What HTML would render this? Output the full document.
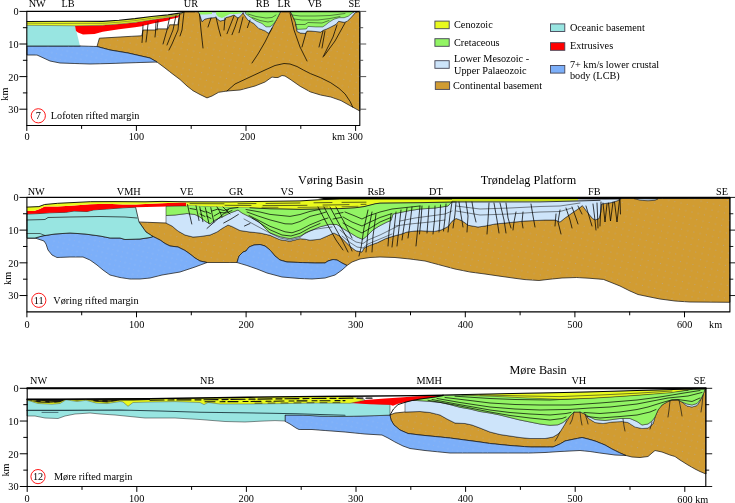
<!DOCTYPE html>
<html><head><meta charset="utf-8"><title>Rifted margin crustal transects</title>
<style>
html,body{margin:0;padding:0;background:#fff;}
body{width:735px;height:503px;overflow:hidden;}
svg{display:block;font-family:"Liberation Serif","DejaVu Serif",serif;fill:#000;}
</style></head><body>
<svg width="735" height="503" viewBox="0 0 735 503">
<defs>
<pattern id="dotb" width="9" height="9" patternUnits="userSpaceOnUse" patternTransform="rotate(-32)"><circle cx="2" cy="2" r="0.5" fill="#b9a68c"/><circle cx="6.5" cy="6.5" r="0.5" fill="#b9a68c"/></pattern>
<pattern id="dotl" width="7" height="7" patternUnits="userSpaceOnUse" patternTransform="rotate(-32)"><circle cx="2" cy="2" r="0.45" fill="#a9c6ee"/><circle cx="5.5" cy="5.5" r="0.45" fill="#98b4e6"/></pattern>
</defs>
<rect x="0" y="0" width="735" height="503" fill="#fff"/>
<polygon points="97,46.5 99.4,38.2 110,37.6 130,36.4 141.8,35.8 143,30 155,30 157,28.9 168,28.9 169.6,24.8 177.8,24.8 179.5,15 183.5,12 198.5,12 199.5,14 202,21.6 205,19 210,18 215.7,17.5 220,21 224.7,20 226,17.5 230,16.5 234,15 238,18 241,15.5 243.2,12.6 244,14.5 248,20.2 253.8,23.5 258.7,28.4 265.2,30.9 268.5,33.3 271,30 273.4,25.1 276.6,19.4 279.5,13.7 280.3,12 290,12 291,12.6 295.2,21.3 297.2,31.5 300.3,33 305.4,33.5 307,31 310.5,31 320.7,32 323.8,30 326.8,28.9 330,27.4 336,24.3 338.6,21.3 344.2,22.3 347.2,21.3 351.3,17.2 355.4,12.6 357,12 359.8,12 359.8,111 349.2,105.2 341,100.6 330.8,97 320.6,95 310.4,91.9 300.2,86.3 290,79.2 285,76 282,75.5 278,77.5 275,77.5 272,77 265,82 255,86 240,90 227,91 218.6,92.3 212,96 207,97.9 200,94.5 193,90.7 187,86 180,79.5 172,73.5 165,68 157,62 150,58 128,53 110,50" fill="#d19c32" stroke="#181818" stroke-width="0.75" stroke-linejoin="round" />
<polygon points="97,46.5 99.4,38.2 110,37.6 130,36.4 141.8,35.8 143,30 155,30 157,28.9 168,28.9 169.6,24.8 177.8,24.8 179.5,15 183.5,12 198.5,12 199.5,14 202,21.6 205,19 210,18 215.7,17.5 220,21 224.7,20 226,17.5 230,16.5 234,15 238,18 241,15.5 243.2,12.6 244,14.5 248,20.2 253.8,23.5 258.7,28.4 265.2,30.9 268.5,33.3 271,30 273.4,25.1 276.6,19.4 279.5,13.7 280.3,12 290,12 291,12.6 295.2,21.3 297.2,31.5 300.3,33 305.4,33.5 307,31 310.5,31 320.7,32 323.8,30 326.8,28.9 330,27.4 336,24.3 338.6,21.3 344.2,22.3 347.2,21.3 351.3,17.2 355.4,12.6 357,12 359.8,12 359.8,111 349.2,105.2 341,100.6 330.8,97 320.6,95 310.4,91.9 300.2,86.3 290,79.2 285,76 282,75.5 278,77.5 275,77.5 272,77 265,82 255,86 240,90 227,91 218.6,92.3 212,96 207,97.9 200,94.5 193,90.7 187,86 180,79.5 172,73.5 165,68 157,62 150,58 128,53 110,50" fill="url(#dotb)" stroke="none"/>
<polygon points="27,46 80,46 97,46.5 110,50 128,53 150,58 157,62 140,62.5 110,63.5 90,64 60,63 50,61 37,55 27,55" fill="#7caff9" stroke="#181818" stroke-width="0.75" stroke-linejoin="round" />
<polygon points="27,46 80,46 97,46.5 110,50 128,53 150,58 157,62 140,62.5 110,63.5 90,64 60,63 50,61 37,55 27,55" fill="url(#dotl)" stroke="none"/>
<polygon points="27,25 75,25.6 80,46 27,46" fill="#98e5e1" stroke="none" stroke-width="0.75" stroke-linejoin="round" />
<polyline points="27,46 80,46" fill="none" stroke="#111" stroke-width="0.7" stroke-linejoin="round" stroke-linecap="round" />
<polygon points="75,25.8 102.7,25.3 119,24 135,22.4 151.6,19.8 168,17.5 178,15.5 182,13.5 180,15.3 177.8,17.5 170,19.3 168,20.5 158,22.6 155,23.1 143,25.7 141.8,26.3 135,27.3 119,29.2 102.7,31.7 94.5,34.1 83,34.4 78,32.5 76,31" fill="#ff0000" stroke="none" stroke-width="0.75" stroke-linejoin="round" />
<polygon points="198.5,12 199.5,14 202,21.6 205,19 210,18 215.7,17.5 220,21 224.7,20 226,17.5 230,16.5 234,15 238,18 241,15.5 243.2,12.6 244,14.5 248,20.2 253.8,23.5 258.7,28.4 265.2,30.9 268.5,33.3 271,30 273.4,25.1 276.6,19.4 279.5,13.7 280.3,12" fill="#cde4fa" stroke="#181818" stroke-width="0.5" stroke-linejoin="round" />
<polygon points="290,12 291,12.6 295.2,21.3 297.2,31.5 300.3,33 305.4,33.5 307,31 310.5,31 320.7,32 323.8,30 326.8,28.9 330,27.4 336,24.3 338.6,21.3 344.2,22.3 347.2,21.3 351.3,17.2 355.4,12.6 357,12" fill="#cde4fa" stroke="#181818" stroke-width="0.5" stroke-linejoin="round" />
<polygon points="245.6,12 245.6,13.7 251.3,17.8 256.2,21 262,23.5 266,26.8 270,26.8 273.4,24.3 276.6,19.4 279.5,13.7 280.3,12" fill="#92f464" stroke="#181818" stroke-width="0.5" stroke-linejoin="round" />
<polygon points="199,12 212,12 212,14 206,14.5 200,14.5" fill="#92f464" stroke="none" stroke-width="0.75" stroke-linejoin="round" />
<polygon points="216,12 230,12 230,14 226,16 222,18 218,16.5 216,14" fill="#92f464" stroke="none" stroke-width="0.75" stroke-linejoin="round" />
<polygon points="230,12 242,12 241,13.5 236,14 230,14" fill="#92f464" stroke="none" stroke-width="0.75" stroke-linejoin="round" />
<polygon points="290,12 291,12.6 295.2,21.3 297.2,29.4 306.4,28.9 308,26.4 315.6,26.9 322.8,26.9 325.8,24.8 328.9,22.3 334,19.2 339,17.7 344.2,17.7 348.3,16.2 352.3,13 354,12" fill="#92f464" stroke="#181818" stroke-width="0.5" stroke-linejoin="round" />
<polyline points="248,14 256,16.5 266,18 272,17.5 276,15" fill="none" stroke="#111" stroke-width="0.5" stroke-linejoin="round" stroke-linecap="round" />
<polyline points="252,17.5 260,20.5 268,22 273,21" fill="none" stroke="#111" stroke-width="0.5" stroke-linejoin="round" stroke-linecap="round" />
<polyline points="292,15 300,16 315,16 330,15.5 345,13.5" fill="none" stroke="#111" stroke-width="0.5" stroke-linejoin="round" stroke-linecap="round" />
<polyline points="294,19 302,20 318,20 330,18.5 340,16.5" fill="none" stroke="#111" stroke-width="0.5" stroke-linejoin="round" stroke-linecap="round" />
<polyline points="296,24.5 305,24.5 308,22.5 322,23 329,20.5" fill="none" stroke="#111" stroke-width="0.5" stroke-linejoin="round" stroke-linecap="round" />
<polygon points="27,21.5 75,21.2 102.7,21.4 119,20.2 135,18.6 151.6,16.5 168,14.9 181,12.9 184,11.8 182,13.5 178,15.5 168,17.5 151.6,19.8 135,22.4 119,24 102.7,25.3 75,25.8 27,25.3" fill="#e9fa1e" stroke="none" stroke-width="0.75" stroke-linejoin="round" />
<polyline points="27,21.5 75,21.2 102.7,21.4 119,20.2 135,18.6 151.6,16.5 168,14.9 181,12.9 184,11.8" fill="none" stroke="#111" stroke-width="1.1" stroke-linejoin="round" stroke-linecap="round" />
<polyline points="27,23.2 60,23.5 75,23.4 102.7,23.4 119,22.2 135,20.6 151.6,18.3 168,16.3 178,14.4" fill="none" stroke="#444" stroke-width="0.5" stroke-linejoin="round" stroke-linecap="round" />
<polyline points="182,13.5 178,15.5 168,17.5 151.6,19.8 135,22.4 119,24 102.7,25.3 75,25.8 27,25.3" fill="none" stroke="#444" stroke-width="0.5" stroke-linejoin="round" stroke-linecap="round" />
<polyline points="199.5,14 201,30 203,48" fill="none" stroke="#000" stroke-width="0.75" stroke-linejoin="round" stroke-linecap="round" />
<polyline points="211,18 208,27" fill="none" stroke="#000" stroke-width="0.75" stroke-linejoin="round" stroke-linecap="round" />
<polyline points="216,17 218.5,28 220.7,36" fill="none" stroke="#000" stroke-width="0.75" stroke-linejoin="round" stroke-linecap="round" />
<polyline points="225,18 224,30" fill="none" stroke="#000" stroke-width="0.75" stroke-linejoin="round" stroke-linecap="round" />
<polyline points="234,16 230,26 227,33.7" fill="none" stroke="#000" stroke-width="0.75" stroke-linejoin="round" stroke-linecap="round" />
<polyline points="238,18 235,27 232,34.7" fill="none" stroke="#000" stroke-width="0.75" stroke-linejoin="round" stroke-linecap="round" />
<polyline points="243,17 241,25 239,32.7" fill="none" stroke="#000" stroke-width="0.75" stroke-linejoin="round" stroke-linecap="round" />
<polyline points="250,20 247.4,27.6" fill="none" stroke="#000" stroke-width="0.75" stroke-linejoin="round" stroke-linecap="round" />
<polyline points="272,28 265,42 258,54 252,63" fill="none" stroke="#000" stroke-width="0.75" stroke-linejoin="round" stroke-linecap="round" />
<polyline points="290,13 294,30 300,47 307,61" fill="none" stroke="#000" stroke-width="0.75" stroke-linejoin="round" stroke-linecap="round" />
<polyline points="306,33 302,47" fill="none" stroke="#000" stroke-width="0.75" stroke-linejoin="round" stroke-linecap="round" />
<polyline points="323,31 319,47" fill="none" stroke="#000" stroke-width="0.75" stroke-linejoin="round" stroke-linecap="round" />
<polyline points="325,31 322,48" fill="none" stroke="#000" stroke-width="0.75" stroke-linejoin="round" stroke-linecap="round" />
<polyline points="337,25 333,37 323,57" fill="none" stroke="#000" stroke-width="0.75" stroke-linejoin="round" stroke-linecap="round" />
<polyline points="345,23 335,41 324,56" fill="none" stroke="#000" stroke-width="0.75" stroke-linejoin="round" stroke-linecap="round" />
<polyline points="143,25 142.5,36 142,42.5" fill="none" stroke="#000" stroke-width="0.75" stroke-linejoin="round" stroke-linecap="round" />
<polyline points="148,24 147,34 146,42" fill="none" stroke="#000" stroke-width="0.75" stroke-linejoin="round" stroke-linecap="round" />
<polyline points="156,22 155.5,32 155,37" fill="none" stroke="#000" stroke-width="0.75" stroke-linejoin="round" stroke-linecap="round" />
<polyline points="158,21 157,30" fill="none" stroke="#000" stroke-width="0.75" stroke-linejoin="round" stroke-linecap="round" />
<polyline points="169.5,18 167,30 163,44" fill="none" stroke="#000" stroke-width="0.75" stroke-linejoin="round" stroke-linecap="round" />
<polyline points="176,15.5 173,30 167,45" fill="none" stroke="#000" stroke-width="0.75" stroke-linejoin="round" stroke-linecap="round" />
<polyline points="179.5,14 178,30 172,44 169,50" fill="none" stroke="#000" stroke-width="0.75" stroke-linejoin="round" stroke-linecap="round" />
<polyline points="184,12 182,30 180,36" fill="none" stroke="#000" stroke-width="0.75" stroke-linejoin="round" stroke-linecap="round" />
<polyline points="227,91 235,84 250,77 265,70 275,65.5 284,63.5 290,64 297,66.5 303.3,70 310.4,73.6 320.6,77.7 330.8,82.8 339,88.4 345.1,94 350.2,101.6 352.8,107.2" fill="none" stroke="#000" stroke-width="0.75" stroke-linejoin="round" stroke-linecap="round" />
<polyline points="26.8,125.5 26.8,11.4 359.8,11.4 359.8,125.5 26.8,125.5" fill="none" stroke="#000" stroke-width="1.1" stroke-linejoin="round" stroke-linecap="round" stroke-linecap="square"/>
<polyline points="19.8,11.4 26.8,11.4" fill="none" stroke="#000" stroke-width="1" stroke-linejoin="round" stroke-linecap="round" />
<polyline points="359.8,11.4 365.8,11.4" fill="none" stroke="#444" stroke-width="0.9" stroke-linejoin="round" stroke-linecap="round" />
<polyline points="23.3,27.7 26.8,27.7" fill="none" stroke="#000" stroke-width="1" stroke-linejoin="round" stroke-linecap="round" />
<polyline points="359.8,27.7 362.8,27.7" fill="none" stroke="#444" stroke-width="0.9" stroke-linejoin="round" stroke-linecap="round" />
<polyline points="19.8,44 26.8,44" fill="none" stroke="#000" stroke-width="1" stroke-linejoin="round" stroke-linecap="round" />
<polyline points="359.8,44 365.8,44" fill="none" stroke="#444" stroke-width="0.9" stroke-linejoin="round" stroke-linecap="round" />
<polyline points="23.3,60.3 26.8,60.3" fill="none" stroke="#000" stroke-width="1" stroke-linejoin="round" stroke-linecap="round" />
<polyline points="359.8,60.3 362.8,60.3" fill="none" stroke="#444" stroke-width="0.9" stroke-linejoin="round" stroke-linecap="round" />
<polyline points="19.8,76.6 26.8,76.6" fill="none" stroke="#000" stroke-width="1" stroke-linejoin="round" stroke-linecap="round" />
<polyline points="359.8,76.6 365.8,76.6" fill="none" stroke="#444" stroke-width="0.9" stroke-linejoin="round" stroke-linecap="round" />
<polyline points="23.3,92.9 26.8,92.9" fill="none" stroke="#000" stroke-width="1" stroke-linejoin="round" stroke-linecap="round" />
<polyline points="359.8,92.9 362.8,92.9" fill="none" stroke="#444" stroke-width="0.9" stroke-linejoin="round" stroke-linecap="round" />
<polyline points="19.8,109.2 26.8,109.2" fill="none" stroke="#000" stroke-width="1" stroke-linejoin="round" stroke-linecap="round" />
<polyline points="359.8,109.2 365.8,109.2" fill="none" stroke="#444" stroke-width="0.9" stroke-linejoin="round" stroke-linecap="round" />
<text x="18.5" y="15.3" font-size="10.25" text-anchor="end" >0</text>
<text x="18.5" y="47.9" font-size="10.25" text-anchor="end" >10</text>
<text x="18.5" y="80.5" font-size="10.25" text-anchor="end" >20</text>
<text x="18.5" y="113.1" font-size="10.25" text-anchor="end" >30</text>
<polyline points="26.8,125.5 26.8,130.5" fill="none" stroke="#000" stroke-width="1" stroke-linejoin="round" stroke-linecap="round" />
<polyline points="81.6,125.5 81.6,128.5" fill="none" stroke="#000" stroke-width="1" stroke-linejoin="round" stroke-linecap="round" />
<polyline points="136.4,125.5 136.4,130.5" fill="none" stroke="#000" stroke-width="1" stroke-linejoin="round" stroke-linecap="round" />
<polyline points="191.2,125.5 191.2,128.5" fill="none" stroke="#000" stroke-width="1" stroke-linejoin="round" stroke-linecap="round" />
<polyline points="246,125.5 246,130.5" fill="none" stroke="#000" stroke-width="1" stroke-linejoin="round" stroke-linecap="round" />
<polyline points="300.8,125.5 300.8,128.5" fill="none" stroke="#000" stroke-width="1" stroke-linejoin="round" stroke-linecap="round" />
<polyline points="355.6,125.5 355.6,130.5" fill="none" stroke="#000" stroke-width="1" stroke-linejoin="round" stroke-linecap="round" />
<text x="27" y="139.5" font-size="10.25" text-anchor="middle" >0</text>
<text x="136.4" y="139.5" font-size="10.25" text-anchor="middle" >100</text>
<text x="247.6" y="139.5" font-size="10.25" text-anchor="middle" >200</text>
<text x="363" y="139.5" font-size="10.25" text-anchor="end" >km 300</text>
<text transform="translate(7.7,94.2) rotate(-90)" font-size="10.25" text-anchor="middle">km</text>
<text x="28.7" y="7" font-size="10.25" text-anchor="start" >NW</text>
<text x="61.4" y="7" font-size="10.25" text-anchor="start" >LB</text>
<text x="183.8" y="7" font-size="10.25" text-anchor="start" >UR</text>
<text x="255.8" y="7" font-size="10.25" text-anchor="start" >RB</text>
<text x="277.4" y="7" font-size="10.25" text-anchor="start" >LR</text>
<text x="307.7" y="7" font-size="10.25" text-anchor="start" >VB</text>
<text x="348.4" y="7" font-size="10.25" text-anchor="start" >SE</text>
<circle cx="38.3" cy="115.8" r="7.1" fill="none" stroke="#f00" stroke-width="0.9"/>
<text x="38.3" y="119.2" font-size="10.25" text-anchor="middle" >7</text>
<text x="50.8" y="119.2" font-size="10.25" text-anchor="start" >Lofoten rifted margin</text>
<polygon points="139,222 166,223 172,226 178,231 185,235 193,237 200,236.5 210,235 217,232 222,228.5 228,225 232,226.5 240,230.5 250,232 260,233 270,235.3 280,239.7 290,241.2 300,238.7 305,239.2 310,240.2 320,239.2 330,234.8 334,233 339.7,236 345,241.3 350.5,246.7 356,250.8 362,252 364,248 369.5,245.4 377.6,242.6 385.7,238.6 393.8,236 400,234.5 407,232 415,231 420.8,230.7 428,231.2 434.4,231.4 441,230 448,226.6 452,221.2 456,218.4 461.6,220.5 468.4,225.3 478,227 485,226 495,224 505,223 515,222 525,221 535,220.5 545,220 555,220 560,222 565,218 572,213 578,209 582.4,205.6 587,211.7 592.6,218.5 595.4,219.8 599,218.5 600.8,212 601.5,204 607,203.2 612,202.5 618,200.5 621,198.3 729.9,198.3 729.9,302.3 690,302 675,301 660,299 650,297 638,294.5 630,291 620,286 610,282 603.4,279.4 590,278.3 576.6,277.5 562,278 550,279.2 539,280.5 525,279.6 515,278.3 500,276.2 485,274 470,272 455,269 440,265 425,261 410,259 395,257.5 380,257 370,257.5 360,259 352,262 347,265.5 342,263 337,260 333,259.5 328,261 325,263 315,263 300,262.5 287,262 280,260 275,256 270,250 265,246 260,244.5 254,245 249,247 246,251 243,252 239,256 237,262.5 207,262.5 200,261 195,258 190,254 185,250.5 178,247 170,246 165,243.5 160,240 153,236.5 146,232" fill="#d19c32" stroke="#181818" stroke-width="0.75" stroke-linejoin="round" />
<polygon points="139,222 166,223 172,226 178,231 185,235 193,237 200,236.5 210,235 217,232 222,228.5 228,225 232,226.5 240,230.5 250,232 260,233 270,235.3 280,239.7 290,241.2 300,238.7 305,239.2 310,240.2 320,239.2 330,234.8 334,233 339.7,236 345,241.3 350.5,246.7 356,250.8 362,252 364,248 369.5,245.4 377.6,242.6 385.7,238.6 393.8,236 400,234.5 407,232 415,231 420.8,230.7 428,231.2 434.4,231.4 441,230 448,226.6 452,221.2 456,218.4 461.6,220.5 468.4,225.3 478,227 485,226 495,224 505,223 515,222 525,221 535,220.5 545,220 555,220 560,222 565,218 572,213 578,209 582.4,205.6 587,211.7 592.6,218.5 595.4,219.8 599,218.5 600.8,212 601.5,204 607,203.2 612,202.5 618,200.5 621,198.3 729.9,198.3 729.9,302.3 690,302 675,301 660,299 650,297 638,294.5 630,291 620,286 610,282 603.4,279.4 590,278.3 576.6,277.5 562,278 550,279.2 539,280.5 525,279.6 515,278.3 500,276.2 485,274 470,272 455,269 440,265 425,261 410,259 395,257.5 380,257 370,257.5 360,259 352,262 347,265.5 342,263 337,260 333,259.5 328,261 325,263 315,263 300,262.5 287,262 280,260 275,256 270,250 265,246 260,244.5 254,245 249,247 246,251 243,252 239,256 237,262.5 207,262.5 200,261 195,258 190,254 185,250.5 178,247 170,246 165,243.5 160,240 153,236.5 146,232" fill="url(#dotb)" stroke="none"/>
<polygon points="27,238 35,238 43,235.8 55,234 70,233 85,234 100,236 110,238 120,238 125,239.5 140,239 150,237.5 153,236.5 160,240 165,243.5 170,246 178,247 185,250.5 190,254 195,258 200,261 207,262.5 195,267 180,272 162,275 150,278 140,279 130,279 120,277.5 110,275 103,270 97,265 90,260 83,257 70,257 57,257.5 52,255 48,250 46,244 44,241 35,238" fill="#7caff9" stroke="#181818" stroke-width="0.75" stroke-linejoin="round" />
<polygon points="27,238 35,238 43,235.8 55,234 70,233 85,234 100,236 110,238 120,238 125,239.5 140,239 150,237.5 153,236.5 160,240 165,243.5 170,246 178,247 185,250.5 190,254 195,258 200,261 207,262.5 195,267 180,272 162,275 150,278 140,279 130,279 120,277.5 110,275 103,270 97,265 90,260 83,257 70,257 57,257.5 52,255 48,250 46,244 44,241 35,238" fill="url(#dotl)" stroke="none"/>
<polygon points="237,262.5 239,256 243,252 246,251 249,247 254,245 260,244.5 265,246 270,250 275,256 280,260 287,262 300,262.5 315,263 325,263 328,261 333,259.5 337,260 342,263 347,265.5 342,270 335,275 325,278 312,279 300,278.5 282,277 267,273 257,269 247,265.5" fill="#7caff9" stroke="#181818" stroke-width="0.75" stroke-linejoin="round" />
<polygon points="237,262.5 239,256 243,252 246,251 249,247 254,245 260,244.5 265,246 270,250 275,256 280,260 287,262 300,262.5 315,263 325,263 328,261 333,259.5 337,260 342,263 347,265.5 342,270 335,275 325,278 312,279 300,278.5 282,277 267,273 257,269 247,265.5" fill="url(#dotl)" stroke="none"/>
<polygon points="27,214 38,213.6 49.5,212.8 65.8,212.3 74,211 87,211.5 93.6,209.9 106.6,209 123,207.8 135.6,207.2 139,222 146,232 153,236.5 150,237.5 140,239 125,239.5 120,238 110,238 100,236 85,234 70,233 55,234 43,235.8 35,238 27,238" fill="#98e5e1" stroke="#181818" stroke-width="0.75" stroke-linejoin="round" />
<polyline points="27,220 45,219.5 48,217.5 70,217 100,216.5 125,217 137,218" fill="none" stroke="#111" stroke-width="0.7" stroke-linejoin="round" stroke-linecap="round" />
<polyline points="27,233.5 40,233.5 45,235.5" fill="none" stroke="#111" stroke-width="0.6" stroke-linejoin="round" stroke-linecap="round" />
<polygon points="27,211 34,211 39.7,209 44.6,206.6 57.7,206.6 74,205.5 90.3,204.2 106.6,203.7 123,204.6 136,204.6 150,203.8 168,203 180,202.4 186.3,202.6 186.3,206 166.7,206.4 136,207.2 123,207.8 106.6,209 93.6,209.9 87,211.5 74,211 65.8,212.3 49.5,212.8 38,213.6 27,214" fill="#ff0000" stroke="none" stroke-width="0.75" stroke-linejoin="round" />
<polygon points="166,215.5 175,215 187,213.5 195,214.5 200,217 205,221 210,224 215,220 222,217 230,213 238,210 242,213 250,217 258,221 267,230 270,232.8 280,236.7 290,238.7 300,236.2 310,230.8 320,226.8 330,224.3 337,224.5 343.8,229 350.5,233 357,237 362.7,239.3 366.8,236 373.5,229.5 380,225.6 387,222 391,220.5 393,214 400,212.5 410,210.5 420,209 435,208 448,206 452,201.5 621,199.3 621,198.3 618,200.5 612,202.5 607,203.2 601.5,204 600.8,212 599,218.5 595.4,219.8 592.6,218.5 587,211.7 582.4,205.6 578,209 572,213 565,218 560,222 555,220 545,220 535,220.5 525,221 515,222 505,223 495,224 485,226 478,227 468.4,225.3 461.6,220.5 456,218.4 452,221.2 448,226.6 441,230 434.4,231.4 428,231.2 420.8,230.7 415,231 407,232 400,234.5 393.8,236 385.7,238.6 377.6,242.6 369.5,245.4 364,248 362,252 356,250.8 350.5,246.7 345,241.3 339.7,236 334,233 330,234.8 320,239.2 310,240.2 305,239.2 300,238.7 290,241.2 280,239.7 270,235.3 260,233 250,232 240,230.5 232,226.5 228,225 222,228.5 217,232 210,235 200,236.5 193,237 185,235 178,231 172,226 166,223" fill="#cde4fa" stroke="#181818" stroke-width="0.5" stroke-linejoin="round" />
<polygon points="166,206.4 186.3,206 188,205.2 215,206.5 250,207.5 300,209 340,208.3 355,207.5 364,206.3 370,204.8 375,203.5 380,202.8 420,202.4 452,201.8 448,206 435,208 420,209 410,210.5 400,212.5 393,214 391,220.5 387,222 380,225.6 373.5,229.5 366.8,236 362.7,239.3 357,237 350.5,233 343.8,229 337,224.5 330,224.3 320,226.8 310,230.8 300,236.2 290,238.7 280,236.7 270,232.8 267,230 258,221 250,217 242,213 238,210 230,213 222,217 215,220 210,224 205,221 200,217 195,214.5 187,213.5 175,215 166,215.5" fill="#92f464" stroke="#181818" stroke-width="0.5" stroke-linejoin="round" />
<polyline points="246,209.5 260,212 270,214.4 290,216.4 300,214.5 310,211.4 320,209.4" fill="none" stroke="#000" stroke-width="0.7" stroke-linejoin="round" stroke-linecap="round" />
<polyline points="247,212 258,216 270,219.9 285,223.8 292,224 300,221.5 310,216.4 320,213.9 326,212" fill="none" stroke="#000" stroke-width="0.7" stroke-linejoin="round" stroke-linecap="round" />
<polyline points="249,215.5 258,220 270,226.3 285,231.8 292,232.8 300,230 310,224.8 322,219.9 328,218" fill="none" stroke="#000" stroke-width="0.7" stroke-linejoin="round" stroke-linecap="round" />
<polyline points="252,218 260,223 270,229.8 282,235 291,236 300,233.3 310,227.8 320,223.5" fill="none" stroke="#000" stroke-width="0.7" stroke-linejoin="round" stroke-linecap="round" />
<polyline points="345,212 355,216 362,219 368,216 380,212 392,209 420,206" fill="none" stroke="#000" stroke-width="0.7" stroke-linejoin="round" stroke-linecap="round" />
<polyline points="343,217 352,222 362,226 368,223 380,217.5 392,213.5" fill="none" stroke="#000" stroke-width="0.7" stroke-linejoin="round" stroke-linecap="round" />
<polyline points="343,223 352,228 362,233 368,229.5 380,222 391,217.5" fill="none" stroke="#000" stroke-width="0.7" stroke-linejoin="round" stroke-linecap="round" />
<polyline points="335,214 343,212.5" fill="none" stroke="#000" stroke-width="0.7" stroke-linejoin="round" stroke-linecap="round" />
<polyline points="333,219 341,217.5" fill="none" stroke="#000" stroke-width="0.7" stroke-linejoin="round" stroke-linecap="round" />
<polyline points="244,219 255,225 268,232 280,238 290,240 300,237.5 305,232.8 315,229.3 325,227.8 332,227" fill="none" stroke="#111" stroke-width="0.5" stroke-linejoin="round" stroke-linecap="round" />
<polyline points="340,230 348,237 356,242 363,243.5 368,240 380,235 390,230 398,226" fill="none" stroke="#111" stroke-width="0.5" stroke-linejoin="round" stroke-linecap="round" />
<polyline points="342,236 350,242.5 357,247 363,248 368,244 380,239 392,234" fill="none" stroke="#111" stroke-width="0.5" stroke-linejoin="round" stroke-linecap="round" />
<polyline points="456,206 480,209 510,208 540,206.5 560,206 580,203" fill="none" stroke="#111" stroke-width="0.5" stroke-linejoin="round" stroke-linecap="round" />
<polyline points="456,211 480,215 510,214 540,212 560,211.5 572,208" fill="none" stroke="#111" stroke-width="0.5" stroke-linejoin="round" stroke-linecap="round" />
<polyline points="400,221 415,218 430,216 445,214 452,211" fill="none" stroke="#111" stroke-width="0.5" stroke-linejoin="round" stroke-linecap="round" />
<polyline points="395,226 410,224 430,222 445,220" fill="none" stroke="#111" stroke-width="0.5" stroke-linejoin="round" stroke-linecap="round" />
<polygon points="634,198.6 645,198.6 658,198.9 655,200.3 648,200.8 640,200.2" fill="#b4c8dc" stroke="#181818" stroke-width="0.6" stroke-linejoin="round" />
<polygon points="27,207.1 38.9,206.6 44.6,204.5 57.7,203.3 74,202.5 90.3,201.7 115,201.6 145,201.8 162,201.4 186,201.8 230,201.9 270,201.3 300,200.9 322,199.6 340,199 455,199 455,201.7 420,202.4 380,202.8 375,203.5 370,204.8 364,206.3 355,207.5 340,208.3 300,209 270,208.5 250,207.5 215,206.5 188,205.2 186.3,206 186.3,202.6 180,202.4 168,203 150,203.8 136,204.6 123,204.6 106.6,203.7 90.3,204.2 74,205.5 57.7,206.6 44.6,206.6 39.7,209 34,211 27,211" fill="#e9fa1e" stroke="none" stroke-width="0.75" stroke-linejoin="round" />
<polyline points="27,207.1 38.9,206.6 44.6,204.5 57.7,203.3 74,202.5 90.3,201.7 115,201.6 145,201.8 162,201.4 186,201.8 230,201.9 270,201.3 300,200.9 322,199.6 340,199 455,199" fill="none" stroke="#000" stroke-width="0.9" stroke-linejoin="round" stroke-linecap="round" />
<polyline points="190,203.6 230,203.8 270,203.4 300,203 340,202.4 366,202.2" fill="none" stroke="#111" stroke-width="0.65" stroke-linejoin="round" stroke-linecap="round" stroke-dasharray="34 14 18 10"/>
<polyline points="225,205.3 270,205.6 300,205.4 340,204.8 366,204.3" fill="none" stroke="#111" stroke-width="0.65" stroke-linejoin="round" stroke-linecap="round" stroke-dasharray="26 12 44 16"/>
<polyline points="262,207.3 300,207.4 340,206.8 358,206.3" fill="none" stroke="#222" stroke-width="0.55" stroke-linejoin="round" stroke-linecap="round" stroke-dasharray="16 20 30 14"/>
<polygon points="318,197.9 621,197.9 621,199.1 340,199.1 326,199.4" fill="#000" stroke="none" stroke-width="0.75" stroke-linejoin="round" />
<polyline points="621,198 729.9,198" fill="none" stroke="#000" stroke-width="1.6" stroke-linejoin="round" stroke-linecap="round" stroke-linecap="butt"/>
<polygon points="452,199 578,199 578,200.6 540,201.4 452,201.6" fill="#c6dc18" stroke="none" stroke-width="0.75" stroke-linejoin="round" />
<polyline points="452,202 540,201.9 578,201 600,200.3" fill="none" stroke="#111" stroke-width="0.8" stroke-linejoin="round" stroke-linecap="round" />
<polyline points="187.5,204.6 189.5,214 191.8,224" fill="none" stroke="#000" stroke-width="0.75" stroke-linejoin="round" stroke-linecap="round" />
<polyline points="196,205.8 197.5,213 199,220.5" fill="none" stroke="#000" stroke-width="0.75" stroke-linejoin="round" stroke-linecap="round" />
<polyline points="199.8,207 201.3,214 202.9,221.7" fill="none" stroke="#000" stroke-width="0.75" stroke-linejoin="round" stroke-linecap="round" />
<polyline points="205.3,207.6 207,215 209,223.5" fill="none" stroke="#000" stroke-width="0.75" stroke-linejoin="round" stroke-linecap="round" />
<polyline points="210.8,207.6 212.3,215 213.9,222.3" fill="none" stroke="#000" stroke-width="0.75" stroke-linejoin="round" stroke-linecap="round" />
<polyline points="217,207 220,212 222,217" fill="none" stroke="#000" stroke-width="0.75" stroke-linejoin="round" stroke-linecap="round" />
<polyline points="223,207 227,211 230,214" fill="none" stroke="#000" stroke-width="0.75" stroke-linejoin="round" stroke-linecap="round" />
<polyline points="228.6,209.5 220,217 207,228.4" fill="none" stroke="#000" stroke-width="0.75" stroke-linejoin="round" stroke-linecap="round" />
<polyline points="238.4,214.4 231,219 223.7,223" fill="none" stroke="#000" stroke-width="0.75" stroke-linejoin="round" stroke-linecap="round" />
<polyline points="250,223.5 244.5,226" fill="none" stroke="#000" stroke-width="0.75" stroke-linejoin="round" stroke-linecap="round" />
<polyline points="190,208.5 196,209.5" fill="none" stroke="#000" stroke-width="0.75" stroke-linejoin="round" stroke-linecap="round" />
<polyline points="200,210 205,212" fill="none" stroke="#000" stroke-width="0.75" stroke-linejoin="round" stroke-linecap="round" />
<polyline points="200,214 205,216.5" fill="none" stroke="#000" stroke-width="0.75" stroke-linejoin="round" stroke-linecap="round" />
<polyline points="206,211.5 210.5,213.5" fill="none" stroke="#000" stroke-width="0.75" stroke-linejoin="round" stroke-linecap="round" />
<polyline points="206.5,216 211,218.5" fill="none" stroke="#000" stroke-width="0.75" stroke-linejoin="round" stroke-linecap="round" />
<polyline points="212,211 218,209 224,210.5 230,208.5 238,207.5" fill="none" stroke="#000" stroke-width="0.75" stroke-linejoin="round" stroke-linecap="round" />
<polyline points="214,216 220,212.5 226,213 232,210.5" fill="none" stroke="#000" stroke-width="0.75" stroke-linejoin="round" stroke-linecap="round" />
<polyline points="318,207 326,222 336,240 343,250" fill="none" stroke="#000" stroke-width="0.75" stroke-linejoin="round" stroke-linecap="round" />
<polyline points="324,207 332,222 342,240 348,252" fill="none" stroke="#000" stroke-width="0.75" stroke-linejoin="round" stroke-linecap="round" />
<polyline points="330,207 338,222 347,238 352,251" fill="none" stroke="#000" stroke-width="0.75" stroke-linejoin="round" stroke-linecap="round" />
<polyline points="336,207 344,222 352,238" fill="none" stroke="#000" stroke-width="0.75" stroke-linejoin="round" stroke-linecap="round" />
<polyline points="368,210 364,228 361,248 359,256" fill="none" stroke="#000" stroke-width="0.75" stroke-linejoin="round" stroke-linecap="round" />
<polyline points="372,212 368,232 366,252" fill="none" stroke="#000" stroke-width="0.75" stroke-linejoin="round" stroke-linecap="round" />
<polyline points="376,214 373,236 372,252" fill="none" stroke="#000" stroke-width="0.75" stroke-linejoin="round" stroke-linecap="round" />
<polyline points="391,214 389,232 388,246" fill="none" stroke="#000" stroke-width="0.75" stroke-linejoin="round" stroke-linecap="round" />
<polyline points="396,212 394,230 392,247" fill="none" stroke="#000" stroke-width="0.75" stroke-linejoin="round" stroke-linecap="round" />
<polyline points="401,210 399,228 397,246" fill="none" stroke="#000" stroke-width="0.75" stroke-linejoin="round" stroke-linecap="round" />
<polyline points="407,208 404,226 402,240" fill="none" stroke="#000" stroke-width="0.75" stroke-linejoin="round" stroke-linecap="round" />
<polyline points="412,207 410,224 408,238" fill="none" stroke="#000" stroke-width="0.75" stroke-linejoin="round" stroke-linecap="round" />
<polyline points="420,206 418,226 416,246" fill="none" stroke="#000" stroke-width="0.75" stroke-linejoin="round" stroke-linecap="round" />
<polyline points="452,202 450,215 448,232" fill="none" stroke="#000" stroke-width="0.75" stroke-linejoin="round" stroke-linecap="round" />
<polyline points="456,202 455,214 453,228" fill="none" stroke="#000" stroke-width="0.75" stroke-linejoin="round" stroke-linecap="round" />
<polyline points="459,202 461,215 463,227" fill="none" stroke="#000" stroke-width="0.75" stroke-linejoin="round" stroke-linecap="round" />
<polyline points="466,202 468,216 467,232" fill="none" stroke="#000" stroke-width="0.75" stroke-linejoin="round" stroke-linecap="round" />
<polyline points="472,202 474,214 476,222" fill="none" stroke="#000" stroke-width="0.75" stroke-linejoin="round" stroke-linecap="round" />
<polyline points="489,203 488,220 487,234" fill="none" stroke="#000" stroke-width="0.75" stroke-linejoin="round" stroke-linecap="round" />
<polyline points="494,203 497,220 499,233" fill="none" stroke="#000" stroke-width="0.75" stroke-linejoin="round" stroke-linecap="round" />
<polyline points="500,203 504,220 506,233" fill="none" stroke="#000" stroke-width="0.75" stroke-linejoin="round" stroke-linecap="round" />
<polyline points="506,203 508,218 511,228" fill="none" stroke="#000" stroke-width="0.75" stroke-linejoin="round" stroke-linecap="round" />
<polyline points="516,212 514,222 513,230" fill="none" stroke="#000" stroke-width="0.75" stroke-linejoin="round" stroke-linecap="round" />
<polyline points="523,212 522,222 523,228" fill="none" stroke="#000" stroke-width="0.75" stroke-linejoin="round" stroke-linecap="round" />
<polyline points="531,204 533,216 535,227" fill="none" stroke="#000" stroke-width="0.75" stroke-linejoin="round" stroke-linecap="round" />
<polyline points="556,214 555,226" fill="none" stroke="#000" stroke-width="0.75" stroke-linejoin="round" stroke-linecap="round" />
<polyline points="560,210 558,222 561,234" fill="none" stroke="#000" stroke-width="0.75" stroke-linejoin="round" stroke-linecap="round" />
<polyline points="566,208 570,220 572,228" fill="none" stroke="#000" stroke-width="0.75" stroke-linejoin="round" stroke-linecap="round" />
<polyline points="572,207 576,218 578,224" fill="none" stroke="#000" stroke-width="0.75" stroke-linejoin="round" stroke-linecap="round" />
<polyline points="578,206 582,214" fill="none" stroke="#000" stroke-width="0.75" stroke-linejoin="round" stroke-linecap="round" />
<polyline points="586,206 589,216 592,226" fill="none" stroke="#000" stroke-width="0.75" stroke-linejoin="round" stroke-linecap="round" />
<polyline points="593,204 594.5,216 596,230" fill="none" stroke="#000" stroke-width="0.75" stroke-linejoin="round" stroke-linecap="round" />
<polyline points="597,203 597.5,214 598,228" fill="none" stroke="#000" stroke-width="0.75" stroke-linejoin="round" stroke-linecap="round" />
<polyline points="601,202 600.5,214 600,226" fill="none" stroke="#000" stroke-width="0.75" stroke-linejoin="round" stroke-linecap="round" />
<polyline points="603,203 605,222 607,204" fill="none" stroke="#000" stroke-width="0.75" stroke-linejoin="round" stroke-linecap="round" />
<polyline points="608.5,203 610.5,221 613,202" fill="none" stroke="#000" stroke-width="0.75" stroke-linejoin="round" stroke-linecap="round" />
<polyline points="614.5,202 617,222 619.5,200" fill="none" stroke="#000" stroke-width="0.75" stroke-linejoin="round" stroke-linecap="round" />
<polyline points="620,200 620.5,214" fill="none" stroke="#000" stroke-width="0.75" stroke-linejoin="round" stroke-linecap="round" />
<polyline points="422,206 421,220 419.5,234" fill="none" stroke="#000" stroke-width="0.75" stroke-linejoin="round" stroke-linecap="round" />
<polyline points="429,206 428,220 427,233" fill="none" stroke="#000" stroke-width="0.75" stroke-linejoin="round" stroke-linecap="round" />
<polyline points="435,206 434.5,220 433,234" fill="none" stroke="#000" stroke-width="0.75" stroke-linejoin="round" stroke-linecap="round" />
<polyline points="440.5,205 440,218 439,232" fill="none" stroke="#000" stroke-width="0.75" stroke-linejoin="round" stroke-linecap="round" />
<polyline points="446,204 445,218 443.5,231" fill="none" stroke="#000" stroke-width="0.75" stroke-linejoin="round" stroke-linecap="round" />
<polyline points="455,201.9 420,202.7 380,203.1 375,203.8 370,205.1 364,206.6 355,207.8 340,208.6 300,209.3 270,208.8 250,207.8" fill="none" stroke="#111" stroke-width="0.8" stroke-linejoin="round" stroke-linecap="round" />
<polyline points="26.9,311.9 26.9,197.4 729.9,197.4 729.9,311.9 26.9,311.9" fill="none" stroke="#000" stroke-width="1.1" stroke-linejoin="round" stroke-linecap="round" stroke-linecap="square"/>
<polyline points="19.9,197.4 26.9,197.4" fill="none" stroke="#000" stroke-width="1" stroke-linejoin="round" stroke-linecap="round" />
<polyline points="729.9,197.4 735.9,197.4" fill="none" stroke="#000" stroke-width="0.9" stroke-linejoin="round" stroke-linecap="round" />
<polyline points="23.4,213.757 26.9,213.757" fill="none" stroke="#000" stroke-width="1" stroke-linejoin="round" stroke-linecap="round" />
<polyline points="729.9,213.757 732.9,213.757" fill="none" stroke="#000" stroke-width="0.9" stroke-linejoin="round" stroke-linecap="round" />
<polyline points="19.9,230.114 26.9,230.114" fill="none" stroke="#000" stroke-width="1" stroke-linejoin="round" stroke-linecap="round" />
<polyline points="729.9,230.114 735.9,230.114" fill="none" stroke="#000" stroke-width="0.9" stroke-linejoin="round" stroke-linecap="round" />
<polyline points="23.4,246.471 26.9,246.471" fill="none" stroke="#000" stroke-width="1" stroke-linejoin="round" stroke-linecap="round" />
<polyline points="729.9,246.471 732.9,246.471" fill="none" stroke="#000" stroke-width="0.9" stroke-linejoin="round" stroke-linecap="round" />
<polyline points="19.9,262.829 26.9,262.829" fill="none" stroke="#000" stroke-width="1" stroke-linejoin="round" stroke-linecap="round" />
<polyline points="729.9,262.829 735.9,262.829" fill="none" stroke="#000" stroke-width="0.9" stroke-linejoin="round" stroke-linecap="round" />
<polyline points="23.4,279.186 26.9,279.186" fill="none" stroke="#000" stroke-width="1" stroke-linejoin="round" stroke-linecap="round" />
<polyline points="729.9,279.186 732.9,279.186" fill="none" stroke="#000" stroke-width="0.9" stroke-linejoin="round" stroke-linecap="round" />
<polyline points="19.9,295.543 26.9,295.543" fill="none" stroke="#000" stroke-width="1" stroke-linejoin="round" stroke-linecap="round" />
<polyline points="729.9,295.543 735.9,295.543" fill="none" stroke="#000" stroke-width="0.9" stroke-linejoin="round" stroke-linecap="round" />
<text x="18.5" y="201.3" font-size="10.25" text-anchor="end" >0</text>
<text x="18.5" y="234.014" font-size="10.25" text-anchor="end" >10</text>
<text x="18.5" y="266.729" font-size="10.25" text-anchor="end" >20</text>
<text x="18.5" y="299.443" font-size="10.25" text-anchor="end" >30</text>
<polyline points="26.9,311.9 26.9,316.9" fill="none" stroke="#000" stroke-width="1" stroke-linejoin="round" stroke-linecap="round" />
<polyline points="81.7,311.9 81.7,314.9" fill="none" stroke="#000" stroke-width="1" stroke-linejoin="round" stroke-linecap="round" />
<polyline points="136.5,311.9 136.5,316.9" fill="none" stroke="#000" stroke-width="1" stroke-linejoin="round" stroke-linecap="round" />
<polyline points="191.3,311.9 191.3,314.9" fill="none" stroke="#000" stroke-width="1" stroke-linejoin="round" stroke-linecap="round" />
<polyline points="246.1,311.9 246.1,316.9" fill="none" stroke="#000" stroke-width="1" stroke-linejoin="round" stroke-linecap="round" />
<polyline points="300.9,311.9 300.9,314.9" fill="none" stroke="#000" stroke-width="1" stroke-linejoin="round" stroke-linecap="round" />
<polyline points="355.7,311.9 355.7,316.9" fill="none" stroke="#000" stroke-width="1" stroke-linejoin="round" stroke-linecap="round" />
<polyline points="410.5,311.9 410.5,314.9" fill="none" stroke="#000" stroke-width="1" stroke-linejoin="round" stroke-linecap="round" />
<polyline points="465.3,311.9 465.3,316.9" fill="none" stroke="#000" stroke-width="1" stroke-linejoin="round" stroke-linecap="round" />
<polyline points="520.1,311.9 520.1,314.9" fill="none" stroke="#000" stroke-width="1" stroke-linejoin="round" stroke-linecap="round" />
<polyline points="574.9,311.9 574.9,316.9" fill="none" stroke="#000" stroke-width="1" stroke-linejoin="round" stroke-linecap="round" />
<polyline points="629.7,311.9 629.7,314.9" fill="none" stroke="#000" stroke-width="1" stroke-linejoin="round" stroke-linecap="round" />
<polyline points="684.5,311.9 684.5,316.9" fill="none" stroke="#000" stroke-width="1" stroke-linejoin="round" stroke-linecap="round" />
<text x="27" y="327.5" font-size="10.25" text-anchor="middle" >0</text>
<text x="136.6" y="327.5" font-size="10.25" text-anchor="middle" >100</text>
<text x="246.2" y="327.5" font-size="10.25" text-anchor="middle" >200</text>
<text x="355.8" y="327.5" font-size="10.25" text-anchor="middle" >300</text>
<text x="465.4" y="327.5" font-size="10.25" text-anchor="middle" >400</text>
<text x="575" y="327.5" font-size="10.25" text-anchor="middle" >500</text>
<text x="684.6" y="327.5" font-size="10.25" text-anchor="middle" >600</text>
<text x="709" y="327.5" font-size="10.25" text-anchor="start" >km</text>
<text transform="translate(11.2,278.4) rotate(-90)" font-size="10.25" text-anchor="middle">km</text>
<text x="27.7" y="194.5" font-size="10.25" text-anchor="start" >NW</text>
<text x="116.8" y="194.5" font-size="10.25" text-anchor="start" >VMH</text>
<text x="179.8" y="194.5" font-size="10.25" text-anchor="start" >VE</text>
<text x="229" y="194.5" font-size="10.25" text-anchor="start" >GR</text>
<text x="280.5" y="194.5" font-size="10.25" text-anchor="start" >VS</text>
<text x="367.5" y="194.5" font-size="10.25" text-anchor="start" >RsB</text>
<text x="429" y="194.5" font-size="10.25" text-anchor="start" >DT</text>
<text x="588" y="194.5" font-size="10.25" text-anchor="start" >FB</text>
<text x="716" y="194.5" font-size="10.25" text-anchor="start" >SE</text>
<text x="298" y="184" font-size="12.2" text-anchor="start" >Vøring Basin</text>
<text x="480.8" y="183.5" font-size="12.2" text-anchor="start" >Trøndelag Platform</text>
<circle cx="38.8" cy="300.3" r="7.1" fill="none" stroke="#f00" stroke-width="0.9"/>
<text x="38.8" y="303.8" font-size="10.25" text-anchor="middle" >11</text>
<text x="53.3" y="303.8" font-size="10.25" text-anchor="start" >Vøring rifted margin</text>
<polygon points="390,415 395,413 405,412 420,411.5 430,412.5 440,415 447,419 455,423 465,423.5 472,425 480,428 490,432 500,434.5 510,436 520,437.5 530,438.5 545,438.5 553,437 558,434 560,432 565,424 570,416 574,412 580,412 585,414 588,418 595,422.5 603,423.5 612,422 622,421.5 628,422.5 635,427 642,428.5 648,428 653,424 655,417 658,410 662,405 667,402 672,400 678,400 682,402 687,406 692,407 697,405.5 700,401 703,395 705,389 706,388.6 706,474 700,471.5 695,469 688,465 680,460 675,456.5 670,455 662,452 655,450.5 652,453 648,456.5 640,457.5 632,457 626,455.5 620,453 612,449 605,445 595,441 588,439 582,437.5 572,439.5 565,441 560,444 553,447 530,447 510,445.5 490,443.5 480,442 465,440 450,438 435,436.5 420,435 408,433.5 400,430 394,425 391,420" fill="#d19c32" stroke="#181818" stroke-width="0.75" stroke-linejoin="round" />
<polygon points="390,415 395,413 405,412 420,411.5 430,412.5 440,415 447,419 455,423 465,423.5 472,425 480,428 490,432 500,434.5 510,436 520,437.5 530,438.5 545,438.5 553,437 558,434 560,432 565,424 570,416 574,412 580,412 585,414 588,418 595,422.5 603,423.5 612,422 622,421.5 628,422.5 635,427 642,428.5 648,428 653,424 655,417 658,410 662,405 667,402 672,400 678,400 682,402 687,406 692,407 697,405.5 700,401 703,395 705,389 706,388.6 706,474 700,471.5 695,469 688,465 680,460 675,456.5 670,455 662,452 655,450.5 652,453 648,456.5 640,457.5 632,457 626,455.5 620,453 612,449 605,445 595,441 588,439 582,437.5 572,439.5 565,441 560,444 553,447 530,447 510,445.5 490,443.5 480,442 465,440 450,438 435,436.5 420,435 408,433.5 400,430 394,425 391,420" fill="url(#dotb)" stroke="none"/>
<polygon points="285,415 300,415 320,416 340,416.5 360,416 380,415.5 390,415 391,420 394,425 400,430 408,433.5 420,435 435,436.5 450,438 465,440 480,442 490,443.5 510,445.5 530,447 553,447 560,444 565,441 572,439.5 582,437.5 588,439 595,441 605,445 612,449 620,453 626,455.5 615,455 600,453 590,451.5 580,450.5 560,451.5 545,452.5 530,453 450,453 440,452 425,450.5 410,448.5 403,446 395,442 388,438 382,435 365,434 345,432 325,430.5 312,429.5 299,429.5 296,428 290,424 285,421.3" fill="#7caff9" stroke="#181818" stroke-width="0.75" stroke-linejoin="round" />
<polygon points="285,415 300,415 320,416 340,416.5 360,416 380,415.5 390,415 391,420 394,425 400,430 408,433.5 420,435 435,436.5 450,438 465,440 480,442 490,443.5 510,445.5 530,447 553,447 560,444 565,441 572,439.5 582,437.5 588,439 595,441 605,445 612,449 620,453 626,455.5 615,455 600,453 590,451.5 580,450.5 560,451.5 545,452.5 530,453 450,453 440,452 425,450.5 410,448.5 403,446 395,442 388,438 382,435 365,434 345,432 325,430.5 312,429.5 299,429.5 296,428 290,424 285,421.3" fill="url(#dotl)" stroke="none"/>
<polygon points="27,399.5 150,399 297,397.5 350,402 390,404.5 390,415 380,415.5 360,416 340,416.5 320,416 300,415 285,415 285,421 275,420.6 260,421.2 245,422 225,421.5 200,419.5 175,418 150,418 145,418 130,416.5 115,415 100,414 90,413 75,414 65,416 58,418.5 45,418 35,416 27,416" fill="#98e5e1" stroke="#181818" stroke-width="0.5" stroke-linejoin="round" />
<polyline points="27,410.4 65,410.4 120,410 160,411 200,412.3 240,412.8 270,413.2 297,413.8 320,414.5 345,415.2" fill="none" stroke="#2a4a50" stroke-width="1.1" stroke-linejoin="round" stroke-linecap="round" />
<polyline points="42,412.4 58,412.4" fill="none" stroke="#123" stroke-width="0.6" stroke-linejoin="round" stroke-linecap="round" />
<polygon points="405,402.3 409,401.2 413,400.3 425,401 440,402.3 450,404.6 460,407.3 470,409 480,411.5 490,413 500,415 510,417.5 520,420 530,422 540,424 550,425.3 558,424.8 563,422.5 567,419 565,424 560,432 558,434 553,437 545,438.5 530,438.5 520,437.5 510,436 500,434.5 490,432 480,428 472,425 465,423.5 455,423 447,419 440,415 430,412.5 420,411.5 405,412" fill="#cde4fa" stroke="#181818" stroke-width="0.5" stroke-linejoin="round" />
<polygon points="586,414.5 588,416 595,419.5 605,420.5 620,418.5 630,418.5 637,421.5 642,425 648,424 652,421 655,417 653,424 648,428 642,428.5 635,427 628,422.5 622,421.5 612,422 603,423.5 595,422.5 588,418" fill="#cde4fa" stroke="#181818" stroke-width="0.4" stroke-linejoin="round" />
<polygon points="682,402 687,404 692,405 697,403.5 700,400 700,401 697,405.5 692,407 687,406" fill="#cde4fa" stroke="#181818" stroke-width="0.4" stroke-linejoin="round" />
<polygon points="413,400.3 420,399 435,397 443,395.6 490,394.6 527,393.8 560,393.2 600,392.2 637,391.1 670,390.2 690,389.6 705,389 703,395 700,400 697,403.5 692,405 687,404 682,402 678,400 672,400 667,402 662,405 658,410 655,417 652,421 648,424 642,425 637,421.5 630,418.5 620,418.5 605,420.5 595,419.5 588,416 585,414 580,412 574,412 570,416 567,419 567,419 563,422.5 558,424.8 550,425.3 540,424 530,422 520,420 510,417.5 500,415 490,413 480,411.5 470,409 460,407.3 450,404.6 440,402.3 425,401 413,400.3" fill="#92f464" stroke="#181818" stroke-width="0.5" stroke-linejoin="round" />
<polyline points="455,396.2 490,398.5 515,399.5 550,400 590,398 615,396.5 637,395 660,393 688,390.2" fill="none" stroke="#000" stroke-width="0.7" stroke-linejoin="round" stroke-linecap="round" />
<polyline points="445,397.5 470,400.5 490,403 515,404.5 540,405 570,405 600,403 637,400 660,397 684,393 700,390.5" fill="none" stroke="#000" stroke-width="0.7" stroke-linejoin="round" stroke-linecap="round" />
<polyline points="437,398.5 460,402.5 490,407 515,409 540,410 570,409.4 590,408 610,407 637,404 668,398 688,396 702,392.5" fill="none" stroke="#000" stroke-width="0.7" stroke-linejoin="round" stroke-linecap="round" />
<polyline points="432,399.5 455,403.8 490,410 510,412.5 530,414 550,415 566,413.5 571,412.5" fill="none" stroke="#000" stroke-width="0.7" stroke-linejoin="round" stroke-linecap="round" />
<polyline points="584,412.5 600,413.5 620,412 637,409.5 648,407 664,402 672,399.8 678,399.5 692,401.5 700,398" fill="none" stroke="#000" stroke-width="0.7" stroke-linejoin="round" stroke-linecap="round" />
<polyline points="428,400.3 455,405 490,412 510,415.5 530,418 550,420 562,418.5 566,417" fill="none" stroke="#000" stroke-width="0.7" stroke-linejoin="round" stroke-linecap="round" />
<polyline points="587,416.5 600,418 620,416.5 637,415 650,412 656,409.5" fill="none" stroke="#000" stroke-width="0.7" stroke-linejoin="round" stroke-linecap="round" />
<polygon points="350,403 365,400 385,398.5 400,397.6 417,396.2 443,395.4 435,397 420,399 412,400.5 406,402 398,403.8 393,405.7 390,404.7 370,404.2" fill="#ff0000" stroke="none" stroke-width="0.75" stroke-linejoin="round" />
<polyline points="443,395.6 435,397 420,399 412,400.5 406,402 398,404.6 393.5,409 390,415" fill="none" stroke="#000" stroke-width="0.9" stroke-linejoin="round" stroke-linecap="round" />
<polygon points="27,399.3 60,399.2 100,398.9 150,398.6 200,398 250,397.2 297,396.6 350,396.2 365,400 350,403.3 315,403 285,403.6 250,404 220,404 208,402.5 204,404.6 200,402.5 175,401.6 150,402 133,402.5 128,406.3 123,402 120,401.5 107,403.6 96,403 86,400.3 77,401.5 66,399.8 60,403.5 52,404.2 38,403.5 30,401 27,400.2" fill="#e9fa1e" stroke="#333" stroke-width="0.4" stroke-linejoin="round" />
<polygon points="27,399.3 60,399.2 100,398.9 150,398.6 150,400 133,400.6 120,400.4 107,402.4 96,401.8 86,399.8 77,400.6 66,399.5 60,402.3 52,403 38,402.4 30,400.5 27,399.9" fill="#1a1a10" stroke="none" stroke-width="0.75" stroke-linejoin="round" />
<polyline points="32,400.6 56,402.6" fill="none" stroke="#c8c820" stroke-width="0.7" stroke-linejoin="round" stroke-linecap="round" stroke-dasharray="4 5"/>
<polyline points="90,400.6 118,401.3" fill="none" stroke="#c8c820" stroke-width="0.6" stroke-linejoin="round" stroke-linecap="round" stroke-dasharray="3 6"/>
<polyline points="27,399.3 60,399.2 100,398.9 150,398.6 200,398 250,397.2 297,396.6 350,396.2 417,395.6 443,395.2" fill="none" stroke="#000" stroke-width="1.4" stroke-linejoin="round" stroke-linecap="round" />
<polyline points="150,400.1 200,399.8 250,399.2 297,398.6 350,398.2 372,398.2" fill="none" stroke="#111" stroke-width="1.2" stroke-linejoin="round" stroke-linecap="round" stroke-dasharray="14 4 6 3"/>
<polyline points="205,401.8 250,401.5 297,400.9 345,400.6" fill="none" stroke="#111" stroke-width="1.1" stroke-linejoin="round" stroke-linecap="round" stroke-dasharray="10 5 5 3"/>
<polyline points="255,403.2 297,402.8 340,402.6" fill="none" stroke="#222" stroke-width="0.7" stroke-linejoin="round" stroke-linecap="round" stroke-dasharray="7 6"/>
<polygon points="462,395 490,394.3 527,393.5 560,392.9 600,391.9 637,390.8 670,390 692,389.3 670,392.8 637,395.3 615,396.8 590,398.3 560,399.3 527,398 500,396.6 480,395.8" fill="#e9fa1e" stroke="none" stroke-width="0.75" stroke-linejoin="round" />
<polyline points="480,395 527,396 560,396.6 600,395 637,393.2 672,391" fill="none" stroke="#222" stroke-width="0.6" stroke-linejoin="round" stroke-linecap="round" />
<polyline points="462,395 480,395.8 500,396.6 527,398 560,399.3 590,398.3 615,396.8 637,395.3 670,392.8 692,389.3" fill="none" stroke="#222" stroke-width="0.5" stroke-linejoin="round" stroke-linecap="round" />
<polyline points="443,395 490,394 527,393.2 560,392.6 600,391.6 637,390.5 670,389.6 690,389 705,388.6" fill="none" stroke="#000" stroke-width="1.0" stroke-linejoin="round" stroke-linecap="round" />
<polyline points="574,412 572,420 570,424" fill="none" stroke="#111" stroke-width="0.7" stroke-linejoin="round" stroke-linecap="round" />
<polyline points="580,412 581,420 582,425" fill="none" stroke="#111" stroke-width="0.7" stroke-linejoin="round" stroke-linecap="round" />
<polyline points="585,414 587,420 588,424" fill="none" stroke="#111" stroke-width="0.7" stroke-linejoin="round" stroke-linecap="round" />
<polyline points="623,419 624,426 625,431" fill="none" stroke="#111" stroke-width="0.7" stroke-linejoin="round" stroke-linecap="round" />
<polyline points="560,432 557,438 555,441" fill="none" stroke="#111" stroke-width="0.7" stroke-linejoin="round" stroke-linecap="round" />
<polyline points="670,401 669,410 668,417" fill="none" stroke="#111" stroke-width="0.7" stroke-linejoin="round" stroke-linecap="round" />
<polyline points="679,400 681,410 682,416" fill="none" stroke="#111" stroke-width="0.7" stroke-linejoin="round" stroke-linecap="round" />
<polyline points="703,395 702,405 701,412" fill="none" stroke="#111" stroke-width="0.7" stroke-linejoin="round" stroke-linecap="round" />
<polyline points="652,422 651,426 650,429" fill="none" stroke="#111" stroke-width="0.7" stroke-linejoin="round" stroke-linecap="round" />
<polyline points="27.2,486.5 27.2,388.3 705.8,388.3 705.8,486.5 27.2,486.5" fill="none" stroke="#000" stroke-width="1.1" stroke-linejoin="round" stroke-linecap="round" stroke-linecap="square"/>
<polyline points="27.2,388.3 705.8,388.3" fill="none" stroke="#000" stroke-width="2.0" stroke-linejoin="round" stroke-linecap="round" stroke-linecap="square"/>
<polyline points="20.2,388.3 27.2,388.3" fill="none" stroke="#000" stroke-width="1" stroke-linejoin="round" stroke-linecap="round" />
<polyline points="705.8,388.3 711.8,388.3" fill="none" stroke="#000" stroke-width="0.9" stroke-linejoin="round" stroke-linecap="round" />
<polyline points="23.7,404.667 27.2,404.667" fill="none" stroke="#000" stroke-width="1" stroke-linejoin="round" stroke-linecap="round" />
<polyline points="705.8,404.667 708.8,404.667" fill="none" stroke="#000" stroke-width="0.9" stroke-linejoin="round" stroke-linecap="round" />
<polyline points="20.2,421.033 27.2,421.033" fill="none" stroke="#000" stroke-width="1" stroke-linejoin="round" stroke-linecap="round" />
<polyline points="705.8,421.033 711.8,421.033" fill="none" stroke="#000" stroke-width="0.9" stroke-linejoin="round" stroke-linecap="round" />
<polyline points="23.7,437.4 27.2,437.4" fill="none" stroke="#000" stroke-width="1" stroke-linejoin="round" stroke-linecap="round" />
<polyline points="705.8,437.4 708.8,437.4" fill="none" stroke="#000" stroke-width="0.9" stroke-linejoin="round" stroke-linecap="round" />
<polyline points="20.2,453.767 27.2,453.767" fill="none" stroke="#000" stroke-width="1" stroke-linejoin="round" stroke-linecap="round" />
<polyline points="705.8,453.767 711.8,453.767" fill="none" stroke="#000" stroke-width="0.9" stroke-linejoin="round" stroke-linecap="round" />
<polyline points="23.7,470.133 27.2,470.133" fill="none" stroke="#000" stroke-width="1" stroke-linejoin="round" stroke-linecap="round" />
<polyline points="705.8,470.133 708.8,470.133" fill="none" stroke="#000" stroke-width="0.9" stroke-linejoin="round" stroke-linecap="round" />
<polyline points="20.2,486.5 27.2,486.5" fill="none" stroke="#000" stroke-width="1" stroke-linejoin="round" stroke-linecap="round" />
<polyline points="705.8,486.5 711.8,486.5" fill="none" stroke="#000" stroke-width="0.9" stroke-linejoin="round" stroke-linecap="round" />
<text x="18.5" y="392.2" font-size="10.25" text-anchor="end" >0</text>
<text x="18.5" y="424.933" font-size="10.25" text-anchor="end" >10</text>
<text x="18.5" y="457.667" font-size="10.25" text-anchor="end" >20</text>
<text x="18.5" y="490.4" font-size="10.25" text-anchor="end" >30</text>
<polyline points="27.2,486.5 27.2,491.5" fill="none" stroke="#000" stroke-width="1" stroke-linejoin="round" stroke-linecap="round" />
<polyline points="82,486.5 82,489.5" fill="none" stroke="#000" stroke-width="1" stroke-linejoin="round" stroke-linecap="round" />
<polyline points="136.8,486.5 136.8,491.5" fill="none" stroke="#000" stroke-width="1" stroke-linejoin="round" stroke-linecap="round" />
<polyline points="191.6,486.5 191.6,489.5" fill="none" stroke="#000" stroke-width="1" stroke-linejoin="round" stroke-linecap="round" />
<polyline points="246.4,486.5 246.4,491.5" fill="none" stroke="#000" stroke-width="1" stroke-linejoin="round" stroke-linecap="round" />
<polyline points="301.2,486.5 301.2,489.5" fill="none" stroke="#000" stroke-width="1" stroke-linejoin="round" stroke-linecap="round" />
<polyline points="356,486.5 356,491.5" fill="none" stroke="#000" stroke-width="1" stroke-linejoin="round" stroke-linecap="round" />
<polyline points="410.8,486.5 410.8,489.5" fill="none" stroke="#000" stroke-width="1" stroke-linejoin="round" stroke-linecap="round" />
<polyline points="465.6,486.5 465.6,491.5" fill="none" stroke="#000" stroke-width="1" stroke-linejoin="round" stroke-linecap="round" />
<polyline points="520.4,486.5 520.4,489.5" fill="none" stroke="#000" stroke-width="1" stroke-linejoin="round" stroke-linecap="round" />
<polyline points="575.2,486.5 575.2,491.5" fill="none" stroke="#000" stroke-width="1" stroke-linejoin="round" stroke-linecap="round" />
<polyline points="630,486.5 630,489.5" fill="none" stroke="#000" stroke-width="1" stroke-linejoin="round" stroke-linecap="round" />
<polyline points="684.8,486.5 684.8,491.5" fill="none" stroke="#000" stroke-width="1" stroke-linejoin="round" stroke-linecap="round" />
<text x="27" y="502.3" font-size="10.25" text-anchor="middle" >0</text>
<text x="136.6" y="502.3" font-size="10.25" text-anchor="middle" >100</text>
<text x="246.2" y="502.3" font-size="10.25" text-anchor="middle" >200</text>
<text x="355.8" y="502.3" font-size="10.25" text-anchor="middle" >300</text>
<text x="465.4" y="502.3" font-size="10.25" text-anchor="middle" >400</text>
<text x="575" y="502.3" font-size="10.25" text-anchor="middle" >500</text>
<text x="677.3" y="502.6" font-size="10.25" text-anchor="start" >600 km</text>
<text transform="translate(9,470) rotate(-90)" font-size="10.25" text-anchor="middle">km</text>
<text x="30" y="383.8" font-size="10.25" text-anchor="start" >NW</text>
<text x="200" y="383.8" font-size="10.25" text-anchor="start" >NB</text>
<text x="416.4" y="383.8" font-size="10.25" text-anchor="start" >MMH</text>
<text x="571.4" y="383.8" font-size="10.25" text-anchor="start" >VH</text>
<text x="693.8" y="383.8" font-size="10.25" text-anchor="start" >SE</text>
<text x="509.5" y="373.7" font-size="12.2" text-anchor="start" >Møre Basin</text>
<circle cx="38" cy="476.6" r="7.1" fill="none" stroke="#f00" stroke-width="0.9"/>
<text x="38" y="480.1" font-size="10.25" text-anchor="middle" >12</text>
<text x="54" y="480.1" font-size="10.25" text-anchor="start" >Møre rifted margin</text>
<rect x="434.9" y="21.1" width="14.3" height="7.6" fill="#e9fa1e" stroke="#445" stroke-width="0.9"/>
<text x="454" y="28.2" font-size="10.25" text-anchor="start" >Cenozoic</text>
<rect x="434.9" y="38.7" width="14.3" height="7.6" fill="#92f464" stroke="#445" stroke-width="0.9"/>
<text x="454" y="45.8" font-size="10.25" text-anchor="start" >Cretaceous</text>
<rect x="434.9" y="60.7" width="14.3" height="7.6" fill="#cde4fa" stroke="#445" stroke-width="0.9"/>
<text x="454" y="61.7" font-size="10.25" text-anchor="start" >Lower Mesozoic -</text>
<text x="454" y="73.5" font-size="10.25" text-anchor="start" >Upper Palaeozoic</text>
<rect x="435.3" y="81.8" width="14.3" height="7.6" fill="#d19c32" stroke="#445" stroke-width="0.9"/>
<text x="453" y="89.2" font-size="10.25" text-anchor="start" >Continental basement</text>
<rect x="550.5" y="23.9" width="14.3" height="7.6" fill="#98e5e1" stroke="#445" stroke-width="0.9"/>
<text x="569.9" y="30.5" font-size="10.25" text-anchor="start" >Oceanic basement</text>
<rect x="550.5" y="42.7" width="14.3" height="7.6" fill="#ff0000" stroke="#445" stroke-width="0.9"/>
<text x="569.9" y="48.7" font-size="10.25" text-anchor="start" >Extrusives</text>
<rect x="550.5" y="65.5" width="14.3" height="7.6" fill="#7caff9" stroke="#445" stroke-width="0.9"/>
<text x="569.9" y="67.8" font-size="10.25" text-anchor="start" >7+ km/s lower crustal</text>
<text x="569.9" y="79.4" font-size="10.25" text-anchor="start" >body (LCB)</text>
</svg>
</body></html>
